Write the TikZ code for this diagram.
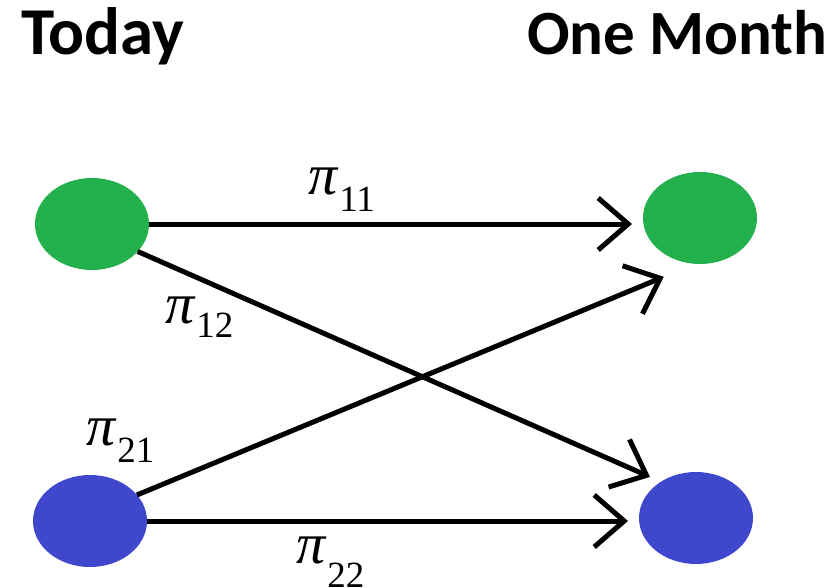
\documentclass[tikz,border=0pt]{standalone}
\usepackage{fontspec}
\usepackage{tikz}
\usetikzlibrary{arrows.meta,shapes.geometric}
\newfontfamily\headfont{Carlito}
\newfontfamily\pifont{Liberation Serif}
\definecolor{pgreen}{RGB}{34,177,76}
\definecolor{pblue}{RGB}{63,72,204}
\newcommand\pilab[2][17pt]{{\pifont\fontsize{58}{58}\selectfont\itshape π}\kern2pt\raisebox{-#1}{\pifont\fontsize{37}{37}\selectfont #2}}

\begin{document}
\begin{tikzpicture}[x=1pt,y=-1pt,
    state/.style={ellipse,minimum width=114pt,minimum height=92pt,inner sep=0pt,outer sep=0pt},
    flow/.style={line width=5pt,-{Straight Barb[length=30pt,width=52pt]}},
    head/.style={anchor=base west,inner sep=0pt,font=\headfont\bfseries},
    lab/.style={anchor=base west,inner sep=0pt}]
        \useasboundingbox (0,0) rectangle (832,588);
        \node[head] (today) at (21,55) {\fontsize{67}{67}\selectfont Today};
        \node[head] (month) at (527,55) {\fontsize{63}{63}\selectfont One Month};
        \node[state,fill=pgreen] (g1) at (92,224) {};
        \node[state,fill=pblue] (b1) at (90,521) {};
        \node[state,fill=pgreen] (g2) at (700,218) {};
        \node[state,fill=pblue] (b2) at (696,518) {};
        \draw[flow,shorten >=11pt] (g1.east) -- (g1.east -| g2.west);
        \draw[flow,shorten >=12pt] (g1.-31) -- (b2.134);
        \draw[flow,shorten >=34pt] (b1.29) -- (g2.-96);
        \draw[flow,shorten >=11pt] (b1.east) -- (b1.east -| b2.west);
        \node[lab] (p11) at (308,195) {\pilab{11}};
        \node[lab] (p12) at (165,323) {\pilab[14pt]{12}};
        \node[lab] (p21) at (86,445) {\pilab{21}};
        \node[lab] (p22) at (296,563) {\pilab[24pt]{22}};
      \end{tikzpicture}
\end{document}
